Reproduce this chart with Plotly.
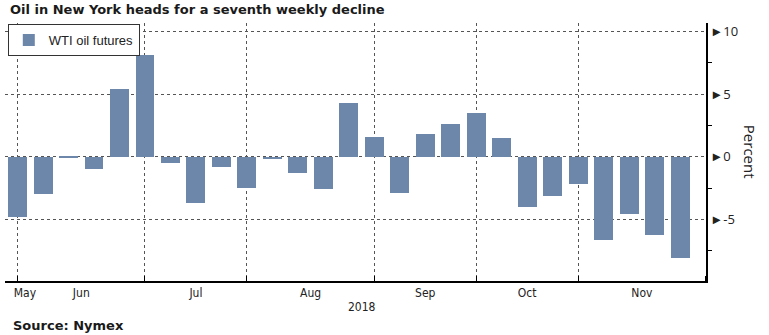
import plotly.graph_objects as go

# Weekly WTI oil futures change (%), week ending Friday
week_ending = [
    "2018-05-25", "2018-06-01", "2018-06-08", "2018-06-15", "2018-06-22", "2018-06-29",
    "2018-07-06", "2018-07-13", "2018-07-20", "2018-07-27", "2018-08-03", "2018-08-10",
    "2018-08-17", "2018-08-24", "2018-08-31", "2018-09-07", "2018-09-14", "2018-09-21",
    "2018-09-28", "2018-10-05", "2018-10-12", "2018-10-19", "2018-10-26", "2018-11-02",
    "2018-11-09", "2018-11-16", "2018-11-23",
]
wti_change = [
    -4.8, -3.0, -0.1, -1.0, 5.4, 8.1,
    -0.5, -3.7, -0.8, -2.5, -0.2, -1.3,
    -2.6, 4.3, 1.6, -2.9, 1.8, 2.6,
    3.5, 1.5, -4.0, -3.1, -2.2, -6.6,
    -4.6, -6.2, -8.1,
]

# Month boundaries (last weekly bar of each month) and month label positions
month_boundaries = ["2018-05-25", "2018-06-29", "2018-07-27", "2018-08-31",
                    "2018-09-28", "2018-10-26", "2018-11-30"]
month_label_dates = ["2018-05-27", "2018-06-11 12:00", "2018-07-13", "2018-08-13 12:00",
                     "2018-09-14", "2018-10-12", "2018-11-12 12:00"]
month_labels = ["May", "Jun", "Jul", "Aug", "Sep", "Oct", "Nov"]

y_ticks = [-5, 0, 5, 10]
y_tick_labels = ["\u25ba-5", "\u25ba0", "\u25ba5", "\u25ba10"]
y_minor = [-7.5, -2.5, 2.5, 7.5]

BAR = "#6d87ab"
GRID = "#555555"
DAY_MS = 86400000

fig = go.Figure()
fig.add_trace(go.Bar(
    x=week_ending, y=wti_change, name="WTI oil futures",
    marker=dict(color=BAR, line=dict(width=0)),
    width=5.2 * DAY_MS, showlegend=True,
))

fig.update_layout(
    width=769, height=335,
    margin=dict(l=5, r=63, t=23, b=54),
    paper_bgcolor="white", plot_bgcolor="white",
    font=dict(family="Open Sans", size=12, color="#222"),
    showlegend=True,
    legend=dict(x=0.004, y=0.996, xanchor="left", yanchor="top",
                bgcolor="white", bordercolor="#333", borderwidth=1,
                font=dict(family="Liberation Sans", size=13, color="#222"),
                itemwidth=30, tracegroupgap=0),
    bargap=0,
)

fig.update_xaxes(
    type="date",
    range=["2018-05-21 13:00", "2018-11-30 03:00"],
    tickmode="array", tickvals=month_label_dates, ticktext=month_labels,
    ticks="", showgrid=False,
    tickfont=dict(family="DejaVu Sans Condensed", size=12, color="#222"),
    showline=True, linecolor="black", linewidth=1.5,
    minor=dict(tickmode="array", tickvals=month_boundaries, showgrid=True,
               gridcolor=GRID, griddash="dot", gridwidth=1,
               ticks="inside", ticklen=5, tickcolor="black"),
    zeroline=False, fixedrange=True,
)

fig.update_yaxes(
    side="right", range=[-9.9, 10.66],
    tickmode="array", tickvals=y_ticks, ticktext=y_tick_labels,
    ticks="", showgrid=True, gridcolor=GRID, griddash="dot", gridwidth=1,
    tickfont=dict(family="Open Sans", size=13, color="#222"),
    ticklabelstandoff=0,
    showline=True, linecolor="black", linewidth=1.5,
    minor=dict(tickmode="array", tickvals=y_minor, ticks="outside", ticklen=4,
               tickcolor="black", showgrid=False),
    zeroline=False, fixedrange=True,
)

# Text annotations
fig.add_annotation(text="<b>Oil in New York heads for a seventh weekly decline</b>",
                   xref="paper", yref="paper", x=0.004, y=1.054,
                   xanchor="left", yanchor="middle", showarrow=False,
                   font=dict(family="DejaVu Sans", size=13, color="#1a1a1a"))
fig.add_annotation(text="<b>Source: Nymex</b>",
                   xref="paper", yref="paper", x=0.009, y=-0.172,
                   xanchor="left", yanchor="middle", showarrow=False,
                   font=dict(family="DejaVu Sans", size=13, color="#1a1a1a"))
fig.add_annotation(text="2018", xref="paper", yref="paper", x=0.509, y=-0.101,
                   xanchor="center", yanchor="middle", showarrow=False,
                   font=dict(family="DejaVu Sans Condensed", size=12, color="#222"))
fig.add_annotation(text="Percent", xref="paper", yref="paper", x=1.063, y=0.5,
                   xanchor="center", yanchor="middle", showarrow=False, textangle=90,
                   font=dict(family="Open Sans", size=15, color="#222"))

fig.write_html("out.html")
